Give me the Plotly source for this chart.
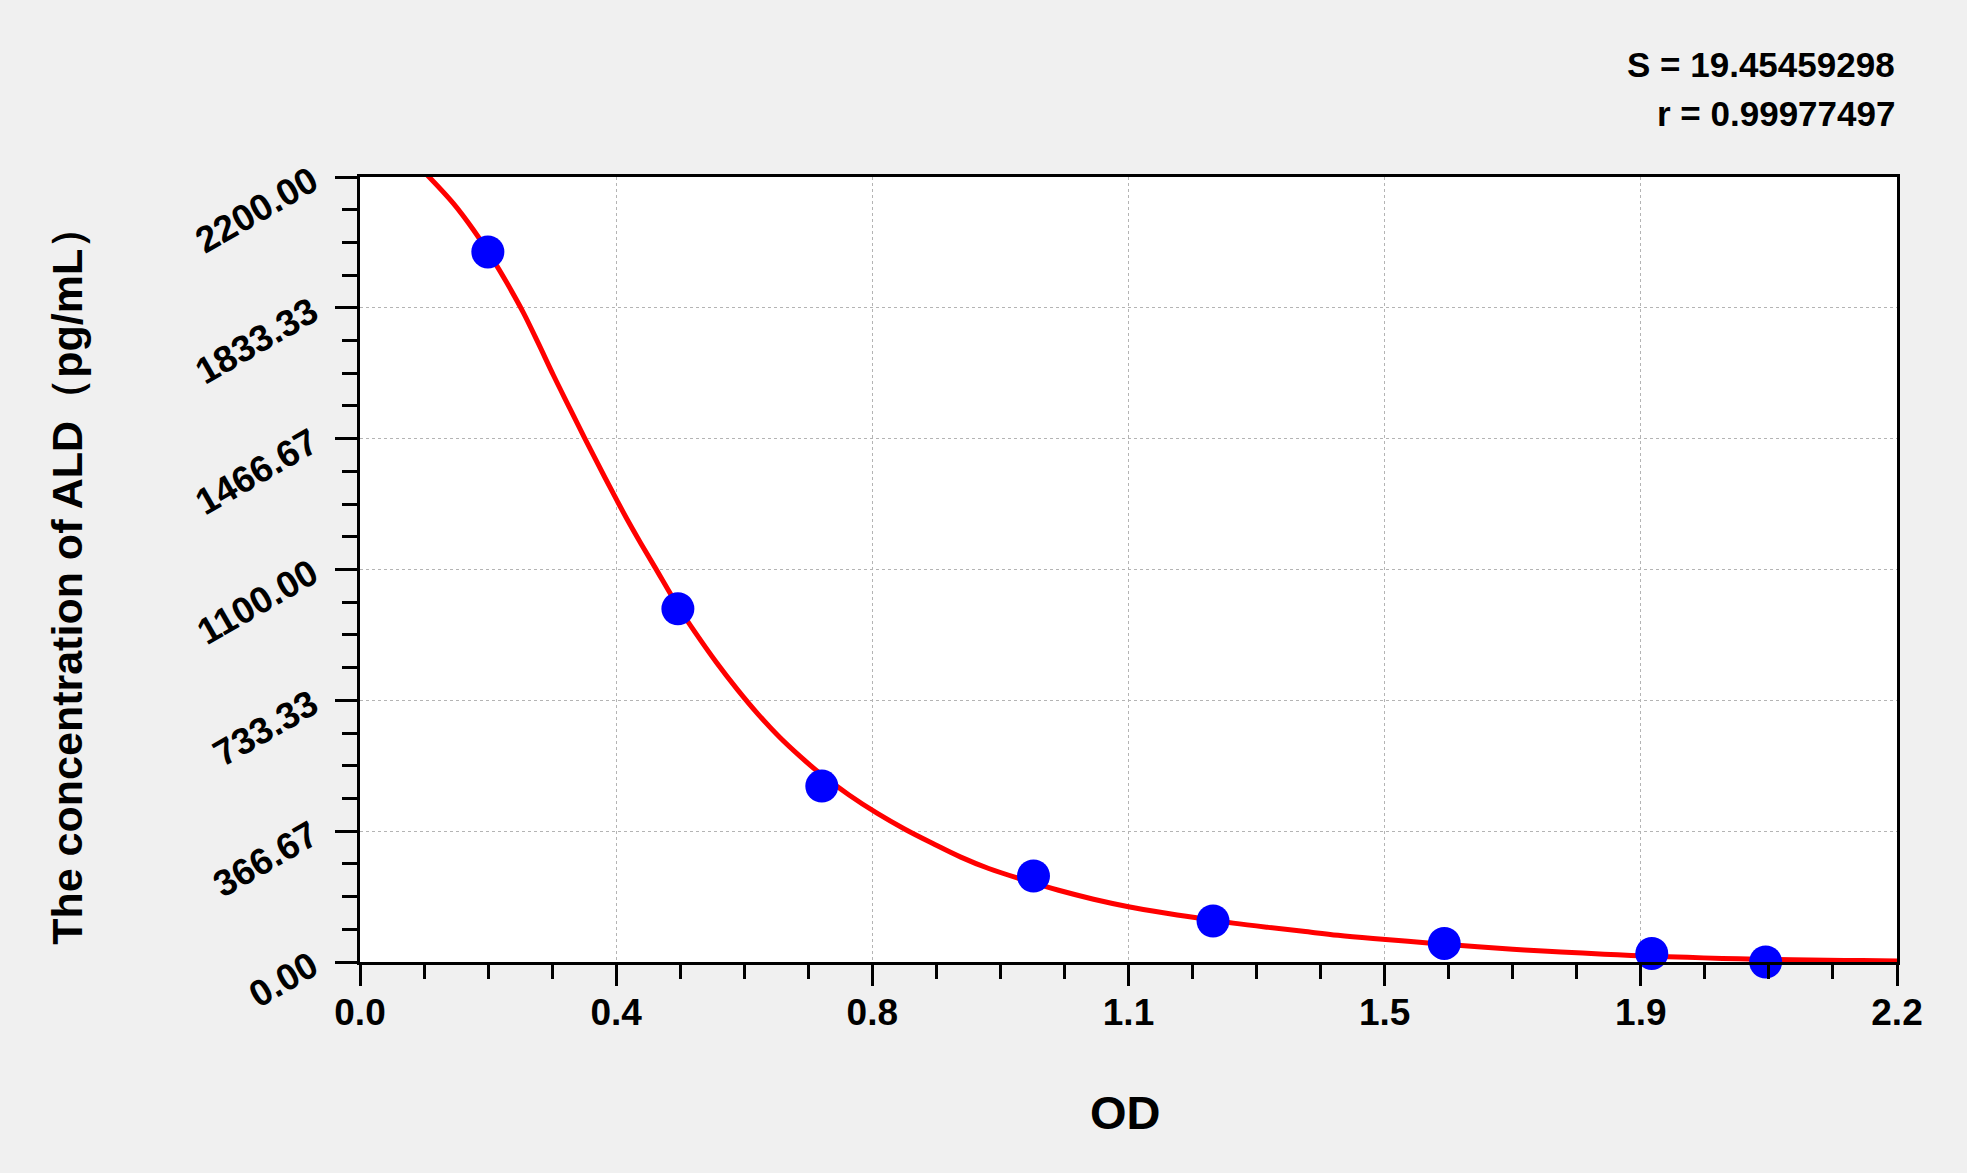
import plotly.graph_objects as go

# Standard points (OD, concentration pg/mL)
od_points = [0.183, 0.455, 0.661, 0.964, 1.221, 1.552, 1.849, 2.012]
conc_points = [1990, 990, 493, 241, 115, 52, 24, 0]

# Fitted curve
curve_od = [0.094, 0.1336, 0.1622, 0.1908, 0.21, 0.2338, 0.255, 0.2767, 0.30, 0.3245,
            0.35, 0.3674, 0.3817, 0.40, 0.4223, 0.4557, 0.48, 0.51, 0.54, 0.57,
            0.60, 0.63, 0.66, 0.70, 0.74, 0.78, 0.82, 0.86, 0.90, 0.95,
            1.00, 1.05, 1.10, 1.15, 1.20, 1.25, 1.30, 1.35, 1.40, 1.45,
            1.50, 1.55, 1.60, 1.65, 1.70, 1.75, 1.80, 1.85, 1.90, 1.95,
            2.00, 2.05, 2.10, 2.15, 2.20]
curve_conc = [2210, 2126, 2052, 1967, 1904, 1820, 1735, 1645, 1553, 1457,
              1360, 1295, 1243, 1180, 1106, 995, 923, 840, 764, 694,
              631, 576, 526, 468, 417, 372, 332, 294, 262, 230,
              201, 176, 155, 138, 123, 109, 97, 86, 75, 66,
              58, 50, 43, 36, 30, 25, 20, 16, 13, 10,
              8, 6, 5, 4, 3]

x_tickvals = [0, 2.2 / 6, 2 * 2.2 / 6, 3 * 2.2 / 6, 4 * 2.2 / 6, 5 * 2.2 / 6, 2.2]
x_ticktext = ["0.0", "0.4", "0.8", "1.1", "1.5", "1.9", "2.2"]
y_tickvals = [0, 2200 / 6, 2 * 2200 / 6, 3 * 2200 / 6, 4 * 2200 / 6, 5 * 2200 / 6, 2200]
y_ticktext = ["0.00", "366.67", "733.33", "1100.00", "1466.67", "1833.33", "2200.00"]

stat_s = "S = 19.45459298"
stat_r = "r = 0.99977497"
x_title = "OD"
y_title = "The concentration of ALD（pg/mL）"

FONT = "Liberation Sans, Arial, sans-serif"

fig = go.Figure()
fig.add_trace(go.Scatter(
    x=curve_od, y=curve_conc, mode="lines",
    line=dict(color="#FF0000", width=5, shape="spline", smoothing=1.0),
    showlegend=False, hoverinfo="skip", cliponaxis=True))
fig.add_trace(go.Scatter(
    x=od_points, y=conc_points, mode="markers",
    marker=dict(color="#0000FF", size=33, line=dict(width=0)),
    showlegend=False, cliponaxis=False))

axis_common = dict(
    showline=True, linecolor="black", linewidth=3, mirror=True,
    ticks="outside", tickcolor="black", tickwidth=3,
    showgrid=True, gridcolor="#b4b4b4", gridwidth=1, griddash="3px,3px",
    zeroline=False,
    tickfont=dict(family=FONT, size=37, color="black", weight="bold"),
)

fig.update_xaxes(
    range=[0, 2.2], tickmode="array", tickvals=x_tickvals, ticktext=x_ticktext,
    ticklen=21, ticklabelstandoff=-5,
    minor=dict(tick0=0, dtick=2.2 / 24, ticks="outside", ticklen=14,
               tickwidth=3, tickcolor="black", showgrid=False),
    **axis_common)
fig.update_yaxes(
    range=[0, 2200], tickmode="array", tickvals=y_tickvals, ticktext=y_ticktext,
    ticklen=22, tickangle=-30, ticklabelstandoff=16,
    minor=dict(tick0=0, dtick=2200 / 24, ticks="outside", ticklen=15,
               tickwidth=3, tickcolor="black", showgrid=False),
    **axis_common)

fig.update_layout(
    width=1967, height=1173,
    margin=dict(l=360, r=70, t=177, b=211, autoexpand=False),
    paper_bgcolor="#F0F0F0", plot_bgcolor="white",
    annotations=[
        dict(text=stat_s, xref="paper", yref="paper", x=1, y=1.1427,
             xanchor="right", yanchor="middle", showarrow=False, xshift=0,
             font=dict(family=FONT, size=35, color="black", weight="bold")),
        dict(text=stat_r, xref="paper", yref="paper", x=1, y=1.0815,
             xanchor="right", yanchor="middle", showarrow=False, xshift=0,
             font=dict(family=FONT, size=35, color="black", weight="bold")),
        dict(text=x_title, xref="paper", yref="paper", x=0.5, y=-0.192,
             xanchor="center", yanchor="middle", showarrow=False, xshift=-3,
             font=dict(family=FONT, size=47, color="black", weight="bold")),
        dict(text=y_title, xref="paper", yref="paper", x=0, y=0.492,
             xanchor="center", yanchor="middle", showarrow=False, xshift=-293,
             textangle=-90,
             font=dict(family=FONT, size=43, color="black", weight="bold")),
    ],
)

fig.write_html(
    "out.html",
    config={"displayModeBar": False},
    post_script="document.documentElement.style.margin='0';"
                "document.body.style.margin='0';"
                "document.body.style.background='#F0F0F0';",
)
